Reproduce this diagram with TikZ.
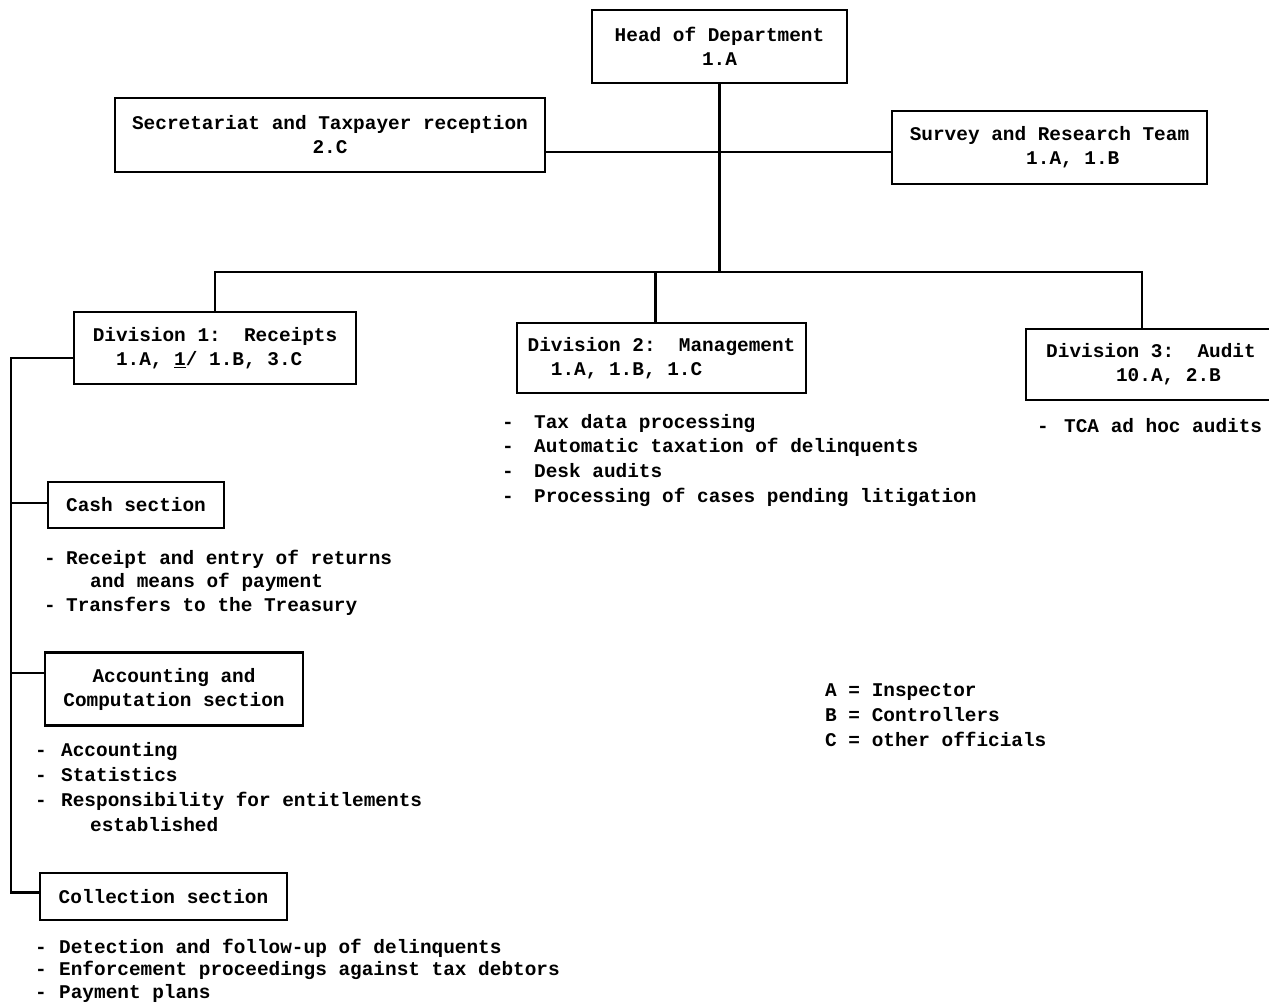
\documentclass[tikz,border=0pt]{standalone}
\usepackage{fontspec}
\setmainfont{Liberation Mono}
\newcommand\lf[1]{\fontsize{19.4}{#1}\selectfont\bfseries}
\newcommand\bul[1]{\makebox[#1pt][l]{-}}
\tikzset{
  box/.style={draw, line width=2.3pt, inner sep=0pt, align=center, font=\lf{24}},
  boxl/.style={box, align=left},
  lst/.style={anchor=north west, inner sep=0pt, align=left},
  conn/.style={line width=2.3pt},
}
\begin{document}
\begin{tikzpicture}[x=1pt,y=-1pt]
\useasboundingbox (0,0) rectangle (1269,1006);
% boxes
\node[box, minimum width=255, minimum height=73] (head) at (719.5,46.5) {Head of Department\\1.A};
\node[box, minimum width=430, minimum height=74] (secr) at (330,135) {Secretariat and Taxpayer reception\\2.C};
\node[boxl, minimum width=315, minimum height=73] (survey) at (1049.5,147.5) {Survey and Research Team\\\phantom{0000000000}1.A, 1.B};
\node[boxl, minimum width=282, minimum height=72] (div1) at (215,348) {Division 1:\phantom{00}Receipts\\\phantom{00}1.A, \underline{1}/ 1.B, 3.C};
\node[boxl, minimum width=289, minimum height=70] (div2) at (661.5,358) {Division 2:\phantom{00}Management\\\phantom{00}1.A, 1.B, 1.C};
\node[boxl, minimum width=250, minimum height=71] (div3) at (1151,364.5) {Division 3:\phantom{00}Audit\\\phantom{000000}10.A, 2.B};
\node[box, minimum width=176, minimum height=46] (cash) at (136,505) {Cash section};
\node[box, minimum width=258, minimum height=73] (acc) at (174,689) {Accounting and\\Computation section};
\node[box, minimum width=247, minimum height=47] (coll) at (163.5,896.5) {Collection section};
% connector anchor points
\coordinate (j1) at (0,152);
\coordinate (bus) at (0,272);
\coordinate (sp) at (11,0);
\coordinate (d1w) at ([yshift=-10pt]div1.west);
\coordinate (d2n) at ([xshift=-6pt]div2.north);
\coordinate (d3n) at ([xshift=-9pt]div3.north);
\coordinate (cashw) at ([yshift=2pt]cash.west);
\coordinate (accw) at ([yshift=16pt]acc.west);
\coordinate (collw) at ([yshift=4pt]coll.west);
% connectors
\draw[conn] (head.south) -- (head.south |- bus);
\draw[conn] (secr.east |- j1) -- (survey.west |- j1);
\draw[conn] (div1.north) -- (div1.north |- bus) -- (d3n |- bus) -- (d3n);
\draw[conn] (d2n) -- (d2n |- bus);
\draw[conn] (d1w) -- (d1w -| sp) -- (sp |- collw) -- (collw);
\draw[conn] (cashw) -- (cashw -| sp);
\draw[conn] (accw) -- (accw -| sp);
% lists
\node[lst, font=\lf{24.7}] (d2list) at (502,410.7) {\strut\bul{32}Tax data processing\\\bul{32}Automatic taxation of delinquents\\\bul{32}Desk audits\\\bul{32}Processing of cases pending litigation};
\node[lst, font=\lf{24}] (d3list) at (1037,415.2) {\strut\bul{27}TCA ad hoc audits};
\node[lst, font=\lf{23.5}] (cashlist) at (44,547.5) {\strut\bul{22}Receipt and entry of returns\\\hspace*{46pt}and means of payment\\\bul{22}Transfers to the Treasury};
\node[lst, font=\lf{25}] (acclist) at (35,738.5) {\strut\bul{26}Accounting\\\bul{26}Statistics\\\bul{26}Responsibility for entitlements\\\hspace*{55pt}established};
\node[lst, font=\lf{22.5}] (colllist) at (35,937.3) {\strut\bul{24}Detection and follow-up of delinquents\\\bul{24}Enforcement proceedings against tax debtors\\\bul{24}Payment plans};
\node[lst, font=\lf{25}] (legend) at (825,678.5) {\strut A = Inspector\\B = Controllers\\C = other officials};
\end{tikzpicture}
\end{document}
